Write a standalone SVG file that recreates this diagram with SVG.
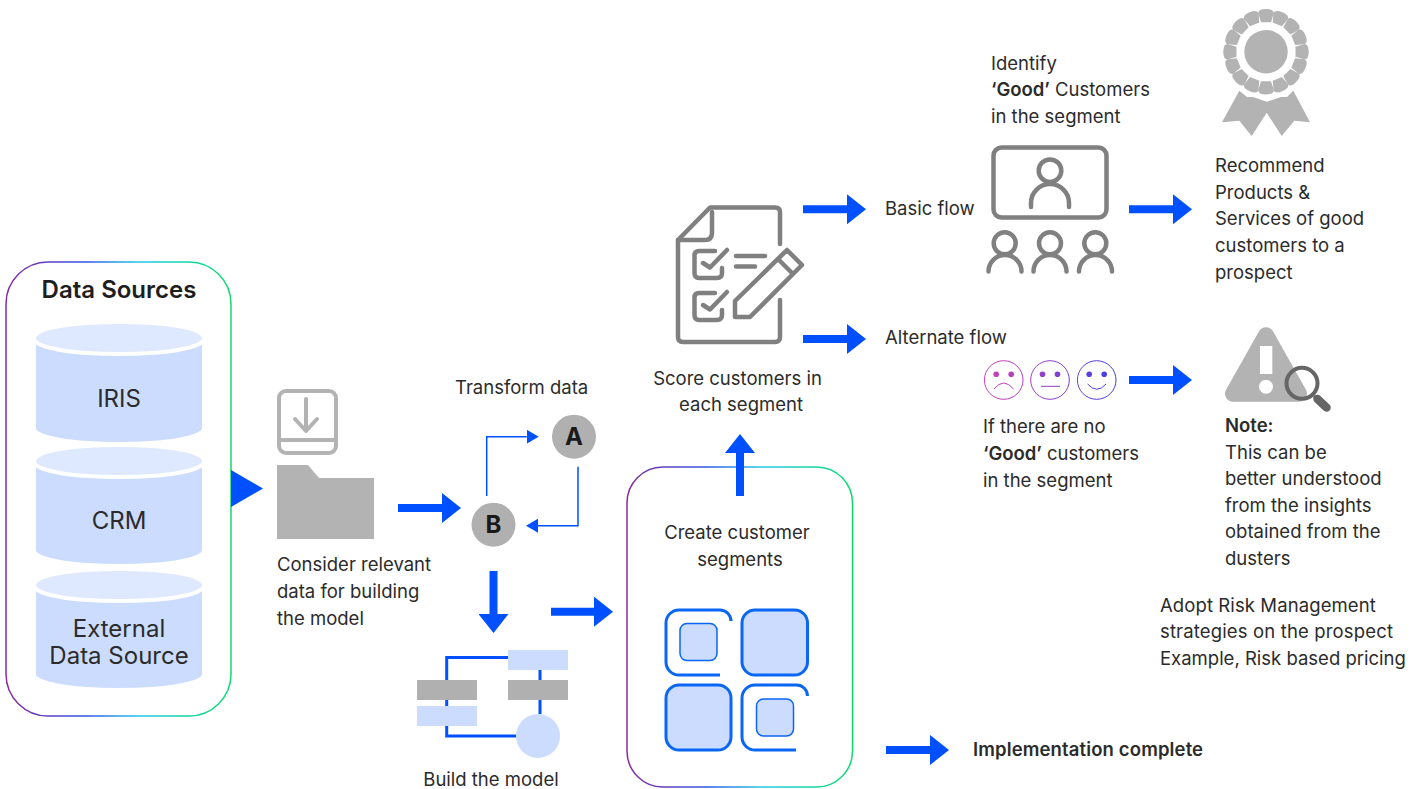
<svg xmlns="http://www.w3.org/2000/svg" xmlns:xlink="http://www.w3.org/1999/xlink" width="1425" height="789" viewBox="0 0 1425 789">
<style>
text{font-family:Inter,"Liberation Sans",sans-serif;font-size:18.500px;fill:#2b2b2b}
.b{font-weight:600}
.m{text-anchor:middle}
.cy{font-size:24px}
.big{fill:none;stroke:#0050ff;stroke-width:8;marker-end:url(#big)}
.thin{fill:none;stroke:#0050ff;stroke-width:1.5}
.ln{fill:none;stroke:#808080;stroke-width:4.500;stroke-linecap:round;stroke-linejoin:round}
.seg{fill:none;stroke:#0a66f5;stroke-width:3}
.fill{fill:#cbdcff;stroke:#0a66f5;stroke-width:3}
.in{fill:#cbdcff;stroke:#0a66f5;stroke-width:1.5}
.g{fill:#b0b0b0}
.body{fill:#cbdcff}
.top{fill:#deE8ff}
.lt{fill:#cbdcff}
.fc{fill:none;stroke:url(#faces);stroke-width:1}
.ey{fill:url(#faces)}
</style>
<defs>
<linearGradient id="edge" x1="0" y1="0" x2="1" y2="0"><stop offset="0" stop-color="#8a2aa0"/><stop offset=".35" stop-color="#2f55e6"/><stop offset=".6" stop-color="#22c8e8"/><stop offset=".85" stop-color="#10d898"/><stop offset="1" stop-color="#10d870"/></linearGradient>
<linearGradient id="faces" gradientUnits="userSpaceOnUse" x1="984" y1="0" x2="1116" y2="0"><stop offset="0" stop-color="#d53fb0"/><stop offset="1" stop-color="#3f3fe8"/></linearGradient>
<marker id="big" markerUnits="userSpaceOnUse" viewBox="0 0 19 30" refX="0" refY="15" markerWidth="19" markerHeight="30" orient="auto"><path d="M0 0L19 15L0 30Z" fill="#0050ff"/></marker>
<marker id="sm" markerUnits="userSpaceOnUse" viewBox="0 0 12 14" refX="0" refY="7" markerWidth="12" markerHeight="14" orient="auto"><path d="M0 0L12 7L0 14Z" fill="#0050ff"/></marker>
<path id="pet" d="M-5 -29.500L-7.800 -38.500Q-7.800 -42.700 0 -42.700Q7.800 -42.700 7.800 -38.500L5 -29.500Z" fill="#b3b3b3"/>
</defs>

<g id="data-sources">
<rect x="6" y="262" width="225" height="454" rx="42" fill="#fff" stroke="url(#edge)" stroke-width="1.5"/>
<text class="b m" x="119" y="298" style="font-size:24px;fill:#1e1e1e">Data Sources</text>
</g>
<g id="iris">
<path class="body" d="M36 340V428A83 14 0 0 0 202 428V340Z"/><ellipse cx="119" cy="342" rx="84" ry="14" fill="#fff"/><ellipse class="top" cx="119" cy="338" rx="83" ry="14"/>
<text class="m cy" x="119" y="407">IRIS</text>
</g>
<g id="crm">
<path class="body" d="M36 463V550A83 14 0 0 0 202 550V463Z"/><ellipse cx="119" cy="465" rx="84" ry="14" fill="#fff"/><ellipse class="top" cx="119" cy="461" rx="83" ry="14"/>
<text class="m cy" x="119" y="529">CRM</text>
</g>
<g id="external">
<path class="body" d="M36 587V674A83 14 0 0 0 202 674V587Z"/><ellipse cx="119" cy="589" rx="84" ry="14" fill="#fff"/><ellipse class="top" cx="119" cy="585" rx="83" ry="14"/>
<text class="m cy" x="119" y="637">External</text><text class="m cy" x="119" y="664">Data Source</text>
</g>

<g id="relevant-data">
<rect x="279" y="391" width="57" height="62" rx="7" fill="none" stroke="#b3b3b3" stroke-width="4"/>
<path d="M279 440H336M306 399V430M295 419L306 431L317 419" fill="none" stroke="#b3b3b3" stroke-width="4" stroke-linecap="round" stroke-linejoin="round"/>
<path d="M277 465H308L319 478H374V539H277Z" fill="#b3b3b3"/>
<text x="277" y="571">Consider relevant</text><text x="277" y="598">data for building</text><text x="277" y="625">the model</text>
</g>
<g id="transform-label"><text x="455" y="394">Transform data</text></g>
<g id="node-a"><circle class="g" cx="574" cy="436.700" r="22"/><text class="m" x="574" y="445" style="font-size:24px;font-weight:700;fill:#1a1a1a">A</text></g>
<g id="node-b"><circle class="g" cx="493.500" cy="524.700" r="22"/><text class="m" x="493.500" y="533" style="font-size:24px;font-weight:700;fill:#1a1a1a">B</text></g>
<g id="build-model">
<path d="M508 657.500H446.700V736H516M540 670V714" fill="none" stroke="#0050ff" stroke-width="3"/>
<rect class="lt" x="508" y="650" width="60" height="20"/><rect class="g" x="508" y="680" width="60" height="20"/>
<rect class="g" x="417" y="680" width="60" height="20"/><rect class="lt" x="417" y="706" width="60" height="20"/>
<circle class="lt" cx="538" cy="736" r="22"/>
<text class="m" x="491" y="786">Build the model</text>
</g>
<g id="segments">
<rect x="627" y="467" width="225.500" height="320" rx="36" fill="#fff" stroke="url(#edge)" stroke-width="1.5"/>
<text class="m" x="737" y="539">Create customer</text><text class="m" x="740" y="566">segments</text>
<path class="seg" d="M731 621A11 11 0 0 0 720 610H679A13 13 0 0 0 666 623V662A13 13 0 0 0 679 675H720"/>
<rect class="in" x="680" y="623.500" width="37" height="37" rx="7"/>
<rect class="fill" x="742" y="610" width="65.500" height="65" rx="13"/>
<rect class="fill" x="666" y="685" width="65" height="65" rx="13"/>
<path class="seg" d="M807.500 696A11 11 0 0 0 796 685H755A13 13 0 0 0 742 698V737A13 13 0 0 0 755 750H796"/>
<rect class="in" x="756.500" y="699" width="37" height="37" rx="7"/>
</g>
<g id="score">
<path class="ln" d="M780 244V212Q780 207.500 775 207.500H710L678 240V337Q678 342 683 342H775Q780 342 780 337V300"/>
<path class="ln" d="M712 212V233Q712 240 705 240H678"/>
<path class="ln" d="M715 251H699Q694.500 251 694.500 255.500V273Q694.500 278 699 278H717Q722 278 722 273V268M703 263L710 267.500L727 250"/>
<path class="ln" d="M715 293H699Q694.500 293 694.500 297.500V315Q694.500 320 699 320H717Q722 320 722 315V310M703 305L710 309.500L727 292"/>
<path class="ln" d="M736 256H765M736 266.500H755"/>
<path class="ln" d="M735 317V301L787 250L802 265L750 317ZM778 259L793 274"/>
<text class="m" x="737.500" y="385">Score customers in</text><text class="m" x="741" y="411">each segment</text>
</g>
<g id="basic-flow"><text x="885" y="215">Basic flow</text></g>
<g id="alternate-flow"><text x="885" y="344">Alternate flow</text></g>
<g id="good-customers">
<text x="991" y="70">Identify</text>
<text x="991" y="96"><tspan class="b">‘Good’</tspan> Customers</text>
<text x="991" y="123">in the segment</text>
<rect x="993.500" y="147.500" width="113" height="70" rx="8" fill="none" stroke="#808080" stroke-width="4.500"/>
<circle class="ln" cx="1050" cy="170.700" r="11.300"/>
<path class="ln" d="M1031 207V203A19 19 0 0 1 1069 203V207"/>
<circle class="ln" cx="1004.700" cy="243.300" r="11"/><path class="ln" d="M988.500 271.500A16.500 16.500 0 0 1 1021.500 271.500"/>
<circle class="ln" cx="1050" cy="243.300" r="11"/><path class="ln" d="M1033.500 271.500A16.500 16.500 0 0 1 1066.500 271.500"/>
<circle class="ln" cx="1095.300" cy="243.300" r="11"/><path class="ln" d="M1079 271.500A16.500 16.500 0 0 1 1112 271.500"/>
</g>
<g id="badge">
<path d="M1239.300 90.700L1222 122.300L1239.300 120.700L1251.700 136L1266.700 112.700L1281.700 136L1294.300 120.700L1310 122.300L1293.300 90.700L1287 97L1281 97L1267 101.700L1253 97L1247 97Z" fill="#b3b3b3"/>
<g transform="translate(1266 51.700)">
<circle r="21.700" fill="#b3b3b3"/>
<use href="#pet"/><use href="#pet" transform="rotate(22.500)"/><use href="#pet" transform="rotate(45)"/><use href="#pet" transform="rotate(67.500)"/><use href="#pet" transform="rotate(90)"/><use href="#pet" transform="rotate(112.500)"/><use href="#pet" transform="rotate(135)"/><use href="#pet" transform="rotate(157.500)"/><use href="#pet" transform="rotate(180)"/><use href="#pet" transform="rotate(202.500)"/><use href="#pet" transform="rotate(225)"/><use href="#pet" transform="rotate(247.500)"/><use href="#pet" transform="rotate(270)"/><use href="#pet" transform="rotate(292.500)"/><use href="#pet" transform="rotate(315)"/><use href="#pet" transform="rotate(337.500)"/>
</g>
<text x="1215" y="172">Recommend</text><text x="1215" y="199">Products &amp;</text><text x="1215" y="225">Services of good</text><text x="1215" y="252">customers to a</text><text x="1215" y="279">prospect</text>
</g>
<g id="faces-group">
<circle class="fc" cx="1003.700" cy="380" r="19.300"/><circle class="ey" cx="996.200" cy="374.300" r="2.800"/><circle class="ey" cx="1011.200" cy="374.300" r="2.800"/><path class="fc" d="M994 389Q1003.700 377 1013.500 389"/>
<circle class="fc" cx="1050" cy="380" r="19.300"/><circle class="ey" cx="1042.500" cy="374.300" r="2.800"/><circle class="ey" cx="1057.500" cy="374.300" r="2.800"/><path class="fc" d="M1041 386.300H1060"/>
<circle class="fc" cx="1096.700" cy="380" r="19.300"/><circle class="ey" cx="1089.200" cy="374.300" r="2.800"/><circle class="ey" cx="1104.200" cy="374.300" r="2.800"/><path class="fc" d="M1087.500 384Q1097 394.500 1106 384"/>
<text x="983" y="433">If there are no</text>
<text x="983" y="460"><tspan class="b">‘Good’</tspan> customers</text>
<text x="983" y="487">in the segment</text>
</g>
<g id="warning">
<path d="M1266 335.300L1233 393.700H1299Z" fill="#b3b3b3" stroke="#b3b3b3" stroke-width="16" stroke-linejoin="round"/>
<rect x="1260" y="346" width="12.300" height="28" fill="#fff"/><circle cx="1266" cy="386.700" r="7" fill="#fff"/>
<circle cx="1302" cy="383.300" r="15.500" fill="none" stroke="#666" stroke-width="4"/>
<path d="M1314 396L1316.500 398.300" stroke="#666" stroke-width="3"/>
<path d="M1317.500 399L1326.500 407.500" stroke="#666" stroke-width="8.500" stroke-linecap="round"/>
<text class="b" x="1225" y="432">Note:</text><text x="1225" y="459">This can be</text><text x="1225" y="485">better understood</text><text x="1225" y="512">from the insights</text><text x="1225" y="538">obtained from the</text><text x="1225" y="565">dusters</text>
</g>
<g id="risk"><text x="1160" y="612" letter-spacing=".1">Adopt Risk Management</text><text x="1160" y="638" letter-spacing=".15">strategies on the prospect</text><text x="1160" y="665">Example, Risk based pricing</text></g>
<g id="complete"><text class="b" x="973" y="756" letter-spacing=".13">Implementation complete</text></g>

<g id="connectors">
<path d="M231 470L263 488.500L231 507Z" fill="#0050ff"/>
<path class="big" d="M398 508H442"/>
<path class="thin" d="M486.700 496V436.700H526.700" marker-end="url(#sm)"/>
<path class="thin" d="M578 466.700V525.700H538" marker-end="url(#sm)"/>
<path class="big" d="M493.500 571V614"/>
<path class="big" d="M551 611.700H594"/>
<path class="big" d="M740 496V453"/>
<path class="big" d="M803 209.300H847"/>
<path class="big" d="M803 339H847"/>
<path class="big" d="M1129 209.300H1173"/>
<path class="big" d="M1129 380H1173"/>
<path class="big" d="M886 750H930"/>
</g>
</svg>
